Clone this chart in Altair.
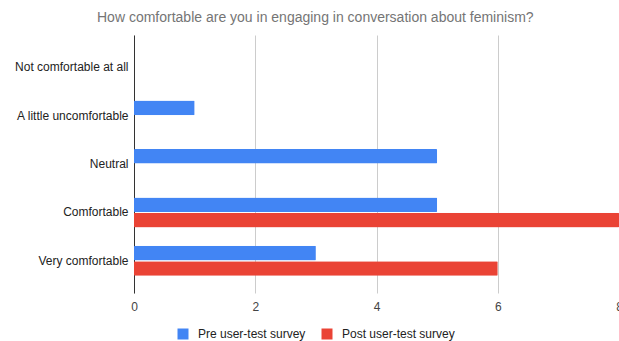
import altair as alt
import pandas as pd

categories = ["Not comfortable at all", "A little uncomfortable", "Neutral", "Comfortable", "Very comfortable"]
series = ["Pre user-test survey", "Post user-test survey"]
pre_values = [0, 1, 5, 5, 3]
post_values = [0, 0, 0, 8, 6]
x_ticks = [0, 2, 4, 6, 8]
colors = ["#4285F4", "#EA4335"]

rows = []
for c, p, q in zip(categories, pre_values, post_values):
    rows.append({"category": c, "series": series[0], "value": p})
    rows.append({"category": c, "series": series[1], "value": q})
df = pd.DataFrame(rows)

FONT = "Liberation Sans"

chart = alt.Chart(
    df,
    title=alt.Title(
        "How comfortable are you in engaging in conversation about feminism?",
        fontSize=14, font=FONT, fontWeight="normal", color="#757575",
        anchor="start", frame="group", dx=-37, offset=10,
    ),
).mark_bar(cornerRadius=1).encode(
    y=alt.Y(
        "category:N", sort=categories,
        scale=alt.Scale(paddingInner=0.38, paddingOuter=0.355),
        axis=alt.Axis(title=None, domain=True, domainColor="#333", domainWidth=1,
                      ticks=False, labelFontSize=12, labelColor="#222",
                      labelPadding=6, grid=False, labelFont=FONT, labelLimit=200),
    ),
    yOffset=alt.YOffset("series:N", sort=series, scale=alt.Scale(paddingInner=0.05)),
    x=alt.X(
        "value:Q", scale=alt.Scale(domain=[0, 8], nice=False),
        axis=alt.Axis(values=x_ticks, title=None, domain=False, ticks=False,
                      gridColor="#cccccc", labelFontSize=12, labelColor="#444",
                      labelPadding=8, labelFont=FONT, format="d", labelFlush=False),
    ),
    color=alt.Color(
        "series:N", sort=series,
        scale=alt.Scale(domain=series, range=colors),
        legend=alt.Legend(title=None, orient="none", legendX=43, legendY=293,
                          direction="horizontal", symbolType="square", symbolSize=121,
                          symbolStrokeWidth=0, labelFontSize=12, labelFont=FONT,
                          labelColor="#222", columnPadding=15, labelOffset=9),
    ),
).properties(
    width=485, height=258,
    autosize=alt.AutoSizeParams(type="none"),
    padding={"left": 134, "top": 35, "right": 0, "bottom": 48},
    background="white",
).configure_view(stroke=None)

chart.save("out.html", embed_options={"renderer": "svg", "actions": False})
